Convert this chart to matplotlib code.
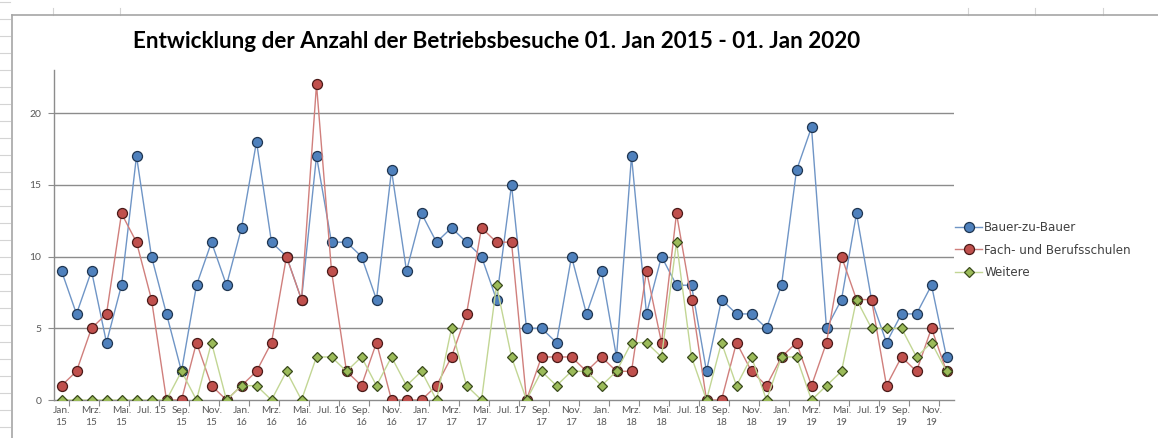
import matplotlib
matplotlib.use("Agg")
import matplotlib.pyplot as plt
from matplotlib.lines import Line2D

# ---------------- data ----------------
months = ["Jan.", "Feb.", "Mrz.", "Apr.", "Mai.", "Jun.", "Jul.", "Aug.", "Sep.", "Okt.", "Nov.", "Dez."]
years = ["15", "16", "17", "18", "19"]

bauer = [9, 6, 9, 4, 8, 17, 10, 6, 2, 8, 11, 8,
         12, 18, 11, 10, 7, 17, 11, 11, 10, 7, 16, 9,
         13, 11, 12, 11, 10, 7, 15, 5, 5, 4, 10, 6,
         9, 3, 17, 6, 10, 8, 8, 2, 7, 6, 6, 5,
         8, 16, 19, 5, 7, 13, 7, 4, 6, 6, 8, 3]
fach = [1, 2, 5, 6, 13, 11, 7, 0, 0, 4, 1, 0,
        1, 2, 4, 10, 7, 22, 9, 2, 1, 4, 0, 0,
        0, 1, 3, 6, 12, 11, 11, 0, 3, 3, 3, 2,
        3, 2, 2, 9, 4, 13, 7, 0, 0, 4, 2, 1,
        3, 4, 1, 4, 10, 7, 7, 1, 3, 2, 5, 2]
weitere = [0, 0, 0, 0, 0, 0, 0, 0, 2, 0, 4, 0,
           1, 1, 0, 2, 0, 3, 3, 2, 3, 1, 3, 1,
           2, 0, 5, 1, 0, 8, 3, 0, 2, 1, 2, 2,
           1, 2, 4, 4, 3, 11, 3, 0, 4, 1, 3, 0,
           3, 3, 0, 1, 2, 7, 5, 5, 5, 3, 4, 2]

series_names = ["Bauer-zu-Bauer", "Fach- und Berufsschulen", "Weitere"]
title = "Entwicklung der Anzahl der Betriebsbesuche 01. Jan 2015 - 01. Jan 2020"
y_ticks = [0, 5, 10, 15, 20]

# tick labels every second month
tick_labels = []
for y in years:
    for m in months[::2]:
        if m == "Jul.":
            tick_labels.append(f"{m} {y}")
        else:
            tick_labels.append(f"{m}\n{y}")

# ---------------- figure ----------------
W, H = 1158, 438
fig = plt.figure(figsize=(W / 100, H / 100), dpi=100)
fig.patch.set_facecolor("white")

# spreadsheet-like background decorations
grid_c = "#d4d4d4"
for yy in range(2, H, 17):
    fig.add_artist(Line2D([0, 10 / W], [1 - yy / H] * 2, color=grid_c, lw=0.8))
for xx in [53, 120, 968, 1035, 1103]:
    fig.add_artist(Line2D([xx / W] * 2, [1 - 8 / H, 1 - 15 / H], color=grid_c, lw=0.8))
# chart frame
fig.add_artist(Line2D([12 / W, 1], [1 - 15 / H] * 2, color="#a6a6a6", lw=1.2))
fig.add_artist(Line2D([12 / W] * 2, [0, 1 - 15 / H], color="#a6a6a6", lw=1.2))

left, right = 54 / W, 954 / W
bottom, top = 1 - 400 / H, 1 - 70 / H
ax = fig.add_axes([left, bottom, right - left, top - bottom])

n = len(bauer)
x = list(range(n))

ax.plot(x, bauer, color="#6f95c6", lw=1.0, marker="o", ms=7.2,
        mfc="#4f81bd", mec="#1f3550", mew=0.9, label=series_names[0], zorder=3)
ax.plot(x, fach, color="#d07f7c", lw=1.0, marker="o", ms=7.2,
        mfc="#c0504d", mec="#4a1a18", mew=0.9, label=series_names[1], zorder=4)
ax.plot(x, weitere, color="#c2d694", lw=1.0, marker="D", ms=5.6,
        mfc="#9bbb59", mec="#3a4a1c", mew=0.9, label=series_names[2], zorder=5)

ax.set_xlim(-0.5, n - 0.5)
ax.set_ylim(0, 23)

for g in y_ticks[1:]:
    ax.axhline(g, color="#8c8c8c", lw=1.0, zorder=1)

ax.set_yticks(y_ticks)
ax.set_yticklabels([str(t) for t in y_ticks])
ax.tick_params(axis="y", length=4, width=0.8, color="#8c8c8c", labelsize=7.5,
               labelcolor="#595959", pad=5)

ax.set_xticks(x[::2])
ax.set_xticklabels(tick_labels, linespacing=1.45)
ax.tick_params(axis="x", length=0, labelsize=7.3, labelcolor="#595959", pad=4)
ax.set_xticks([i - 0.5 for i in range(1, n + 1, 2)], minor=True)
ax.tick_params(axis="x", which="minor", length=4, width=0.8, color="#8c8c8c")
for lab in ax.get_xticklabels():
    lab.set_fontfamily("Lato")
for lab in ax.get_yticklabels():
    lab.set_fontfamily("Lato")

for s in ["top", "right"]:
    ax.spines[s].set_visible(False)
ax.spines["left"].set_color("#8c8c8c")
ax.spines["bottom"].set_color("#8c8c8c")
ax.spines["left"].set_linewidth(1.0)
ax.spines["bottom"].set_linewidth(1.0)
ax.set_facecolor("none")

# title sized to match width
t = fig.text(497 / W, 1 - 42 / H, title, ha="center", va="center",
             fontsize=16, fontweight="bold", family="Lato", color="#000000")
fig.canvas.draw()
wpx = t.get_window_extent().width
t.set_fontsize(16 * 729 / wpx)

leg = fig.legend(loc="center left", bbox_to_anchor=(955 / W, 1 - 250 / H),
                 frameon=False, fontsize=8.6, handlelength=2.3, handletextpad=0.15,
                 labelspacing=0.8, borderaxespad=0, borderpad=0)
for txt in leg.get_texts():
    txt.set_color("#404040")

fig.savefig("out.png", dpi=100, facecolor="white")
